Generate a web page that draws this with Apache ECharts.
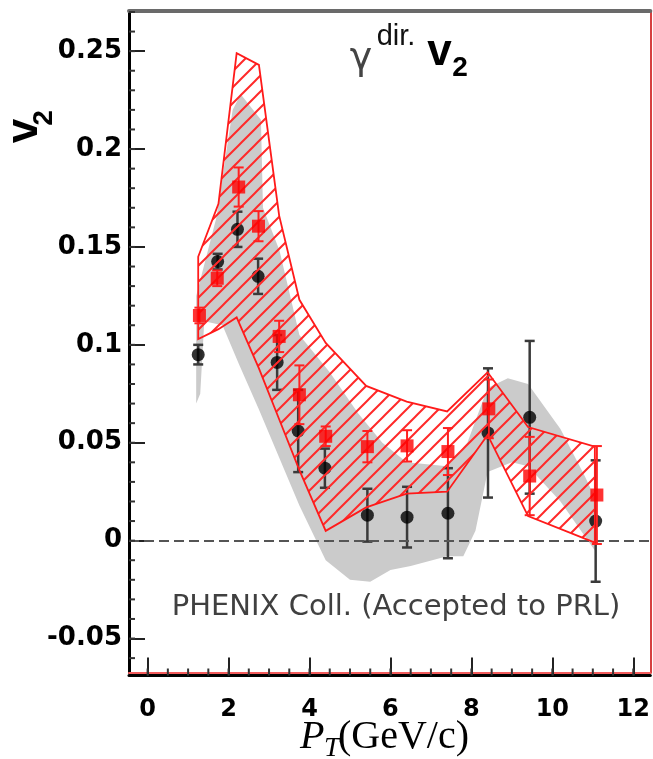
<!DOCTYPE html>
<html><head><meta charset="utf-8">
<script src="https://cdn.jsdelivr.net/npm/echarts@6/dist/echarts.min.js"></script>
<style>html,body{margin:0;padding:0;background:#fff}#c{width:653px;height:759px}</style>
</head><body><div id="c"></div>
<script>
// ---------------- data ----------------
const blackX   = [1.25, 1.73, 2.22, 2.73, 3.20, 3.72, 4.38, 5.43, 6.41, 7.42, 8.41, 9.44, 11.07];
const blackV2  = [0.095, 0.1425, 0.159, 0.135, 0.091, 0.056, 0.037, 0.013, 0.012, 0.014, 0.055, 0.063, 0.010];
const blackErr = [0.005, 0.004, 0.009, 0.009, 0.014, 0.021, 0.010, 0.0135, 0.0155, 0.023, 0.033, 0.039, 0.031];

const redX   = [1.28, 1.72, 2.25, 2.74, 3.25, 3.75, 4.40, 5.43, 6.41, 7.42, 8.43, 9.44, 11.10];
const redV2  = [0.115, 0.134, 0.1806, 0.1606, 0.1043, 0.0745, 0.0533, 0.048, 0.0484, 0.0455, 0.0673, 0.033, 0.0233];
const redErr = [0.004, 0.004, 0.010, 0.0077, 0.008, 0.015, 0.005, 0.008, 0.008, 0.012, 0.015, 0.020, 0.025];

const redBandX     = [1.25, 1.75, 2.20, 2.75, 3.25, 3.75, 4.40, 5.40, 6.40, 7.40, 8.40, 9.40, 11.05];
const redBandUpper = [0.145, 0.172, 0.249, 0.243, 0.166, 0.123, 0.101, 0.079, 0.071, 0.066, 0.086, 0.058, 0.048];
const redBandLower = [0.103, 0.108, 0.114, 0.088, 0.062, 0.036, 0.005, 0.017, 0.024, 0.025, 0.054, 0.0125, -0.001];

const grayUpperX = [1.2, 1.7, 2.1, 2.3, 2.8, 2.85, 3.26, 3.75, 4.5, 5.2, 5.8, 6.4, 7.4, 7.9, 8.4, 8.9, 9.4, 10.2, 10.8, 11.05];
const grayUpperY = [0.125, 0.165, 0.22, 0.228, 0.215, 0.17, 0.148, 0.105, 0.086, 0.065, 0.05, 0.04, 0.038, 0.05, 0.078, 0.083, 0.08, 0.057, 0.033, 0.022];
const grayLowerX = [1.2, 1.3, 1.4, 1.85, 2.26, 2.75, 3.26, 3.75, 4.4, 5.0, 5.5, 6.0, 6.5, 7.4, 7.8, 8.1, 8.4, 9.0, 9.4, 10.2, 11.05];
const grayLowerY = [0.07, 0.075, 0.112, 0.11, 0.09, 0.067, 0.042, 0.018, -0.01, -0.02, -0.021, -0.015, -0.013, -0.008, -0.008, 0.005, 0.035, 0.04, 0.038, 0.02, -0.005];

const xTicks = [0, 2, 4, 6, 8, 10, 12];
const xTickLabels = ['0', '2', '4', '6', '8', '10', '12'];
const yTicks = [-0.05, 0, 0.05, 0.1, 0.15, 0.2, 0.25];
const yTickLabels = ['-0.05', '0', '0.05', '0.1', '0.15', '0.2', '0.25'];

const titleMain = 'γ', titleSup = 'dir.', titleV = 'v', titleSub = '2';
const yName = 'v', yNameSub = '2';
const xNameP = 'P', xNameSub = 'T', xNameUnit = '(GeV/c)';
const note = 'PHENIX Coll. (Accepted to PRL)';

// ---------------- layout ----------------
const X_MIN = -0.46, X_MAX = 12.42, Y_MIN = -0.0676, Y_MAX = 0.2705;
const xMinor = []; for (let i = 0; i <= 24; i++) xMinor.push(i / 2);
const yMinor = []; for (let i = -6; i <= 27; i++) yMinor.push(i / 100);

function lbl(ticks, labels) {
  return v => { const i = ticks.findIndex(t => Math.abs(t - v) < 1e-9); return i >= 0 ? labels[i] : ''; };
}

function makeHatch() {
  const s = 16, c = document.createElement('canvas');
  c.width = s; c.height = s;
  const g = c.getContext('2d');
  g.strokeStyle = '#ff2a2a'; g.lineWidth = 2;
  g.beginPath();
  g.moveTo(-2, s + 2); g.lineTo(s + 2, -2);
  g.moveTo(-2, 2); g.lineTo(2, -2);
  g.moveTo(s - 2, s + 2); g.lineTo(s + 2, s - 2);
  g.stroke();
  return c;
}
const hatch = makeHatch();

function bandSeries(ux, uy, lx, ly, style, z) {
  return {
    type: 'custom', z: z, silent: true, clip: true,
    data: [[ux[0], uy[0]]],
    encode: { x: 0, y: 1 },
    renderItem: (params, api) => {
      const pts = [];
      for (let i = 0; i < ux.length; i++) pts.push(api.coord([ux[i], uy[i]]));
      for (let i = lx.length - 1; i >= 0; i--) pts.push(api.coord([lx[i], ly[i]]));
      return { type: 'polygon', shape: { points: pts }, style: style };
    }
  };
}

function errSeries(xs, ys, es, color, width, cap, z) {
  return {
    type: 'custom', z: z, silent: true, clip: true,
    data: xs.map((x, i) => [x, ys[i] - es[i], ys[i] + es[i]]),
    encode: { x: 0, y: [1, 2] },
    renderItem: (params, api) => {
      const lo = api.coord([api.value(0), api.value(1)]);
      const hi = api.coord([api.value(0), api.value(2)]);
      const st = { stroke: color, lineWidth: width };
      return { type: 'group', children: [
        { type: 'line', shape: { x1: lo[0], y1: lo[1], x2: hi[0], y2: hi[1] }, style: st },
        { type: 'line', shape: { x1: lo[0] - cap, y1: lo[1], x2: lo[0] + cap, y2: lo[1] }, style: st },
        { type: 'line', shape: { x1: hi[0] - cap, y1: hi[1], x2: hi[0] + cap, y2: hi[1] }, style: st }
      ]};
    }
  };
}

// minor tick marks, placed through the axis scales
function minorTicks(values, isX, len, z) {
  return {
    type: 'custom', z: z, silent: true, clip: false,
    data: values.map(v => isX ? [v, Y_MIN] : [X_MIN, v]),
    encode: { x: 0, y: 1 },
    renderItem: (params, api) => {
      const p = api.coord([api.value(0), api.value(1)]);
      const shape = isX ? { x1: p[0], y1: p[1] + 2.5, x2: p[0], y2: p[1] + 2.5 - len }
                        : { x1: p[0], y1: p[1], x2: p[0] + len, y2: p[1] };
      return { type: 'line', shape: shape, style: { stroke: '#333', lineWidth: 2 } };
    }
  };
}

const hidden = { axisLine: { show: false }, axisTick: { show: false }, axisLabel: { show: false }, splitLine: { show: false } };
const tickFont = { fontFamily: 'DejaVu Sans', fontWeight: 'bold', color: '#000' };

const option = {
  animation: false,
  backgroundColor: '#fff',
  grid: { left: 129, right: 1, top: 11, bottom: 86, containLabel: false },
  xAxis: [
    { type: 'value', min: X_MIN, max: X_MAX, position: 'bottom', offset: 2.5,
      axisLine: { show: true, onZero: false, lineStyle: { color: '#000', width: 3 } },
      axisTick: { show: true, inside: true, length: 18, customValues: xTicks, lineStyle: { color: '#222', width: 2 } },
      axisLabel: Object.assign({ customValues: xTicks, formatter: lbl(xTicks, xTickLabels), fontSize: 24, margin: 22 }, tickFont),
      splitLine: { show: false } },
    Object.assign({ type: 'value', min: X_MIN, max: X_MAX, position: 'top' }, hidden,
      { axisLine: { show: true, onZero: false, lineStyle: { color: '#6a6a6a', width: 4 } } }),
    Object.assign({ type: 'value', min: X_MIN, max: X_MAX, position: 'bottom', offset: 0 }, hidden,
      { axisLine: { show: true, onZero: false, lineStyle: { color: '#f25c5c', width: 2 } } })
  ],
  yAxis: [
    { type: 'value', min: Y_MIN, max: Y_MAX, position: 'left',
      axisLine: { show: true, onZero: false, lineStyle: { color: '#000', width: 3 } },
      axisTick: { show: true, inside: true, length: 16, customValues: yTicks, lineStyle: { color: '#222', width: 2 } },
      axisLabel: Object.assign({ customValues: yTicks, formatter: lbl(yTicks, yTickLabels), fontSize: 26, margin: 7 }, tickFont),
      splitLine: { show: false } },
    Object.assign({ type: 'value', min: Y_MIN, max: Y_MAX, position: 'right' }, hidden,
      { axisLine: { show: true, onZero: false, lineStyle: { color: '#c80000', width: 1.5 } } })
  ],
  series: [
    bandSeries(grayUpperX, grayUpperY, grayLowerX, grayLowerY, { fill: '#cbcbcb' }, 1),
    errSeries(blackX, blackV2, blackErr, '#3a3a3a', 2.5, 5, 3),
    { type: 'scatter', z: 4, silent: true, data: blackX.map((x, i) => [x, blackV2[i]]),
      symbol: 'circle', symbolSize: 13, itemStyle: { color: '#000' },
      markLine: { silent: true, symbol: 'none', label: { show: false }, animation: false,
        lineStyle: { color: '#555', type: [10, 5], width: 2 }, data: [{ yAxis: 0 }] } },
    bandSeries(redBandX, redBandUpper, redBandX, redBandLower,
      { fill: { image: hatch, repeat: 'repeat' }, stroke: '#ff1a1a', lineWidth: 1.8 }, 5),
    errSeries(redX, redV2, redErr, '#ff2020', 2, 5, 6),
    { type: 'scatter', z: 7, silent: true, data: redX.map((x, i) => [x, redV2[i]]),
      symbol: 'rect', symbolSize: 13, itemStyle: { color: '#ff0000' } },
    minorTicks(xMinor, true, 7, 9),
    minorTicks(yMinor, false, 6, 9)
  ],
  graphic: [
    { type: 'text', x: 25, y: 131, rotation: Math.PI / 2, z: 10,
      style: { text: yName, font: 'bold 44px "Liberation Sans"', fill: '#000', textAlign: 'center', textVerticalAlign: 'middle' } },
    { type: 'text', x: 44, y: 118, rotation: Math.PI / 2, z: 10,
      style: { text: yNameSub, font: 'bold 28px "Liberation Sans"', fill: '#000', textAlign: 'center', textVerticalAlign: 'middle' } },
    { type: 'text', x: 361, y: 59, z: 10,
      style: { text: titleMain, font: '38px "DejaVu Sans"', fill: '#444', textAlign: 'center', textVerticalAlign: 'middle' } },
    { type: 'text', x: 396, y: 37, z: 10,
      style: { text: titleSup, font: '29px "Liberation Sans"', fill: '#111', textAlign: 'center', textVerticalAlign: 'middle' } },
    { type: 'text', x: 439.5, y: 52.7, z: 10,
      style: { text: titleV, font: 'bold 44px "Liberation Sans"', fill: '#000', textAlign: 'center', textVerticalAlign: 'middle' } },
    { type: 'text', x: 460, y: 68, z: 10,
      style: { text: titleSub, font: 'bold 28px "Liberation Sans"', fill: '#000', textAlign: 'center', textVerticalAlign: 'middle' } },
    { type: 'text', x: 171.7, y: 607, z: 10,
      style: { text: note, font: '29px "DejaVu Sans"', fill: '#404040', textAlign: 'left', textVerticalAlign: 'middle' } },
    { type: 'text', x: 300, y: 737.5, z: 10,
      style: { text: xNameP, font: 'italic 40px "Liberation Serif"', fill: '#000', textAlign: 'left', textVerticalAlign: 'middle' } },
    { type: 'text', x: 324, y: 748.5, z: 10,
      style: { text: xNameSub, font: 'italic 28px "Liberation Serif"', fill: '#000', textAlign: 'left', textVerticalAlign: 'middle' } },
    { type: 'text', x: 338, y: 737.5, z: 10,
      style: { text: xNameUnit, font: '40px "Liberation Serif"', fill: '#000', textAlign: 'left', textVerticalAlign: 'middle' } }
  ]
};

const chart = echarts.init(document.getElementById('c'), null, { renderer: 'canvas' });
chart.setOption(option);
</script>
</body></html>
